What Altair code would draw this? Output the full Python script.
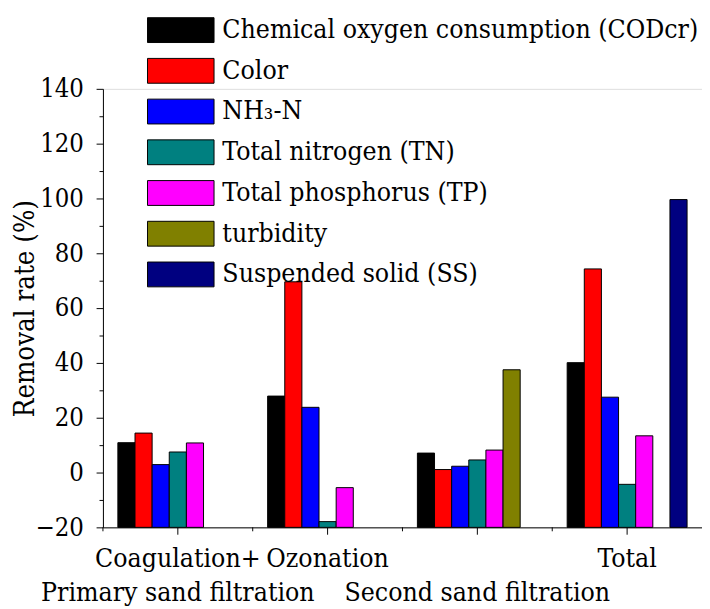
import altair as alt
import pandas as pd

# ---- data ----
cat_line1 = ["Coagulation+", "Ozonation", "", "Total"]
cat_line2 = ["Primary sand filtration", "", "Second sand filtration", ""]
categories = [a + "\n" + b for a, b in zip(cat_line1, cat_line2)]

series = [
    "Chemical oxygen consumption (CODcr)",
    "Color",
    "NH\u2083-N",
    "Total nitrogen (TN)",
    "Total phosphorus (TP)",
    "turbidity",
    "Suspended solid (SS)",
]
colors = ["#000000", "#FF0000", "#0000FF", "#008080", "#FF00FF", "#808000", "#000080"]

# values per category (None = no bar)
cod = [10.9, 27.9, 7.1, 40.1]
color = [14.4, 69.6, 1.1, 74.3]
nh3 = [2.9, 23.8, 2.3, 27.5]
tn = [7.5, -17.9, 4.6, -4.3]
tp = [10.8, -5.5, 8.2, 13.4]
turb = [None, None, 37.5, None]
ss = [None, None, None, 99.6]

y_ticks = list(range(-20, 141, 10))

rows = []
for s, vals in zip(series, [cod, color, nh3, tn, tp, turb, ss]):
    for c, v in zip(categories, vals):
        if v is not None:
            rows.append({"cat": c, "series": s, "value": v, "base": -20})
df = pd.DataFrame(rows)
df_cats = pd.DataFrame({"cat": categories})

FONT = "DejaVu Serif Condensed, DejaVu Serif"

x_scale = alt.Scale(domain=categories, paddingInner=0, paddingOuter=0)
y_scale = alt.Scale(domain=[-20, 140], nice=False, zero=False)

bars = alt.Chart(df).mark_bar(stroke="black", strokeWidth=1).encode(
    x=alt.X(
        "cat:N",
        scale=x_scale,
        sort=categories,
        axis=alt.Axis(
            title=None,
            labelAngle=0,
            labelExpr="split(datum.value, '\\n')",
            labelFont=FONT,
            labelFontSize=27,
            labelColor="black",
            labelLineHeight=35,
            labelPadding=12,
            labelLimit=500,
            labelOverlap=False,
            tickSize=7,
            tickColor="black",
            domainColor="black",
            labelBaseline="top",
        ),
    ),
    xOffset=alt.XOffset(
        "series:N",
        sort=series,
        scale=alt.Scale(domain=series, paddingInner=0, paddingOuter=0.871),
    ),
    y=alt.Y(
        "value:Q",
        scale=y_scale,
        axis=alt.Axis(
            title="Removal rate (%)",
            values=y_ticks,
            labelExpr="datum.value % 20 === 0 ? datum.label : ''",
            tickSize={"condition": {"test": "datum.value % 20 !== 0", "value": 4}, "value": 7},
            labelFont=FONT,
            labelFontSize=26,
            labelColor="black",
            labelPadding=13,
            tickColor="black",
            domainColor="black",
            grid=False,
            titleFont=FONT,
            titleFontSize=28,
            titleFontWeight="normal",
            titleColor="black",
            titlePadding=-4,
        ),
    ),
    y2=alt.Y2("base:Q"),
    fill=alt.Fill(
        "series:N",
        scale=alt.Scale(domain=series, range=colors),
        legend=alt.Legend(
            title=None,
            orient="none",
            legendX=45,
            legendY=-75,
            symbolType="M-1,-0.373H1V0.373H-1Z",
            symbolSize=4624,
            symbolStrokeColor="black",
            symbolStrokeWidth=1,
            symbolOpacity=1,
            clipHeight=30,
            labelFont=FONT,
            labelFontSize=27,
            labelColor="black",
            labelOffset=8,
            labelLimit=600,
            rowPadding=11.6,
        ),
    ),
)

minor_x = alt.Chart(df_cats).mark_rule(color="black", strokeWidth=1).encode(
    x=alt.X("cat:N", scale=x_scale, sort=categories, bandPosition=0),
    y=alt.value(448),
    y2=alt.value(452),
)

chart = (
    alt.layer(bars, minor_x)
    .properties(
        width=612,
        height=448,
        autosize=alt.AutoSizeParams(type="none"),
        padding={"left": 97, "top": 76, "right": 0, "bottom": 86},
    )
    .configure_view(stroke=None)
    .configure(background="white")
)

chart.save("out.html", embed_options={"renderer": "svg", "actions": False})
